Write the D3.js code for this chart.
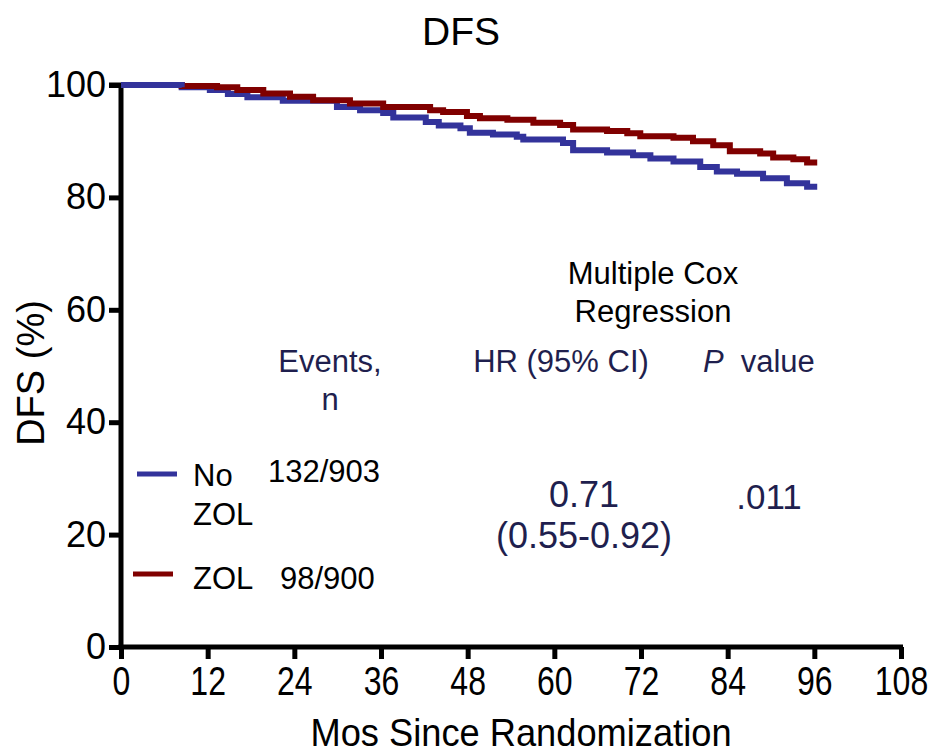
<!DOCTYPE html>
<html><head><meta charset="utf-8">
<script src="https://cdn.jsdelivr.net/npm/d3@7"></script>
<style>body{margin:0;background:#fff}svg{display:block;font-family:"Liberation Sans",Arial,sans-serif}</style>
</head><body>
<script>
const title = "DFS";
const xTicks = [0,12,24,36,48,60,72,84,96,108];
const yTicks = [0,20,40,60,80,100];
const seriesNames = ["No ZOL","ZOL"];
const seriesColors = ["#33339b","#800000"];
// step curves: [month, DFS %]
const noZolCurve = [[0,100],[8.4,99.6],[12.3,99.1],[14.8,98.4],[17.5,97.8],[22.4,97.2],[29.9,96.1],[33.1,95.5],[36.3,95.0],[37.7,94.2],[42.2,93.4],[44,92.8],[47,92.3],[48.3,91.5],[51.5,91.2],[54.8,90.8],[55.7,90.3],[61.2,89.7],[62.6,88.4],[67.3,88.0],[70.9,87.5],[73.3,86.9],[76.5,86.4],[80.2,85.4],[82.5,84.6],[85.3,84.2],[88.9,83.4],[92.2,82.5],[95,81.9],[96.4,81.9]];
const zolCurve = [[0,100],[8.4,99.8],[13.3,99.6],[16.1,99.1],[19.7,98.5],[23.4,97.9],[26.6,97.3],[31.7,96.7],[36.3,96.1],[42.8,95.5],[44.6,95.2],[47.9,94.5],[49.7,94.1],[53.5,93.8],[57.1,93.3],[60.8,92.9],[62.6,92.1],[67.3,91.8],[70.1,91.4],[71.9,90.9],[76.5,90.6],[79.2,90.0],[82,89.3],[84.3,88.2],[88.5,87.8],[90.3,87.1],[93.1,86.8],[95,86.2],[96.4,86.2]];
const eventsN = ["132/903","98/900"];
const hrText = ["0.71","(0.55-0.92)"];
const pText = ".011";

const W=930,H=755;
const svg=d3.select("body").append("svg").attr("width",W).attr("height",H);
const x=d3.scaleLinear().domain([0,108]).range([121,901]);
const y=d3.scaleLinear().domain([0,100]).range([647,85]);

svg.append("text").attr("x",461).attr("y",45).attr("text-anchor","middle").attr("font-size",39).attr("fill","#000").text(title);

// axes
const yAx=svg.append("g").attr("transform","translate(121,0)")
  .call(d3.axisLeft(y).tickValues(yTicks).tickSize(12).tickPadding(3).tickFormat(d3.format("d")));
yAx.select(".domain").attr("stroke","#000").attr("stroke-width",5).attr("d",`M-12,${y(100)}H0V${y(0)+2.5}`);
yAx.selectAll(".tick line").attr("stroke","#000").attr("stroke-width",5);
yAx.selectAll(".tick text").attr("font-size",36).attr("fill","#000").attr("font-family","Liberation Sans, Arial, sans-serif");

const xAx=svg.append("g").attr("transform",`translate(0,${y(0)})`)
  .call(d3.axisBottom(x).tickValues(xTicks).tickSize(12).tickPadding(8).tickFormat(d3.format("d")));
xAx.select(".domain").attr("stroke","#000").attr("stroke-width",5).attr("d",`M118.5,0H903`);
xAx.selectAll(".tick line").attr("stroke","#000").attr("stroke-width",5);
xAx.selectAll(".tick text").attr("font-size",40).attr("fill","#000").attr("font-family","Liberation Sans, Arial, sans-serif")
  .attr("transform","scale(0.8,1)");

svg.append("text").attr("transform","translate(521,746) scale(0.93,1)").attr("text-anchor","middle").attr("font-size",39).attr("fill","#000").text("Mos Since Randomization");
svg.append("text").attr("transform","translate(44,373) rotate(-90)").attr("text-anchor","middle").attr("font-size",38).attr("fill","#000").text("DFS (%)");

// curves
const line=d3.line().x(d=>x(d[0])).y(d=>y(d[1])).curve(d3.curveStepAfter);
[noZolCurve,zolCurve].forEach((c,i)=>{
  svg.append("path").datum(c).attr("d",line).attr("fill","none").attr("stroke",seriesColors[i]).attr("stroke-width",6);
});
// blue on top for the shared flat start
svg.append("path").datum(noZolCurve.slice(0,2)).attr("d",line).attr("fill","none").attr("stroke",seriesColors[0]).attr("stroke-width",6);

// legend
const lg=[{y:474,x1:137,x2:177},{y:574,x1:133,x2:173}];
lg.forEach((l,i)=>svg.append("line").attr("x1",l.x1).attr("x2",l.x2).attr("y1",l.y).attr("y2",l.y).attr("stroke",seriesColors[i]).attr("stroke-width",5));
const t=(xx,yy,s,fs,anchor,fill)=>svg.append("text").attr("x",xx).attr("y",yy).attr("font-size",fs).attr("text-anchor",anchor||"start").attr("fill",fill||"#000").text(s);
t(193,486,"No",31); t(193,525,"ZOL",31);
t(268,482,eventsN[0],31);
t(193,589,"ZOL",31); t(280,589,eventsN[1],31);

const nav="#1f1f4e";
t(653,284,"Multiple Cox",31,"middle");
t(653,322,"Regression",31,"middle");
t(330,372,"Events,",31,"middle",nav);
t(330,410,"n",31,"middle",nav);
t(561,372,"HR (95% CI)",31,"middle",nav);
const pv=svg.append("text").attr("x",703).attr("y",372).attr("font-size",31).attr("fill",nav);
pv.append("tspan").attr("font-style","italic").text("P");
pv.append("tspan").attr("dx",17).text("value");
t(584,507,hrText[0],36,"middle",nav);
t(584,548,hrText[1],36,"middle",nav);
t(769,509,pText,35,"middle",nav);
</script>
</body></html>
